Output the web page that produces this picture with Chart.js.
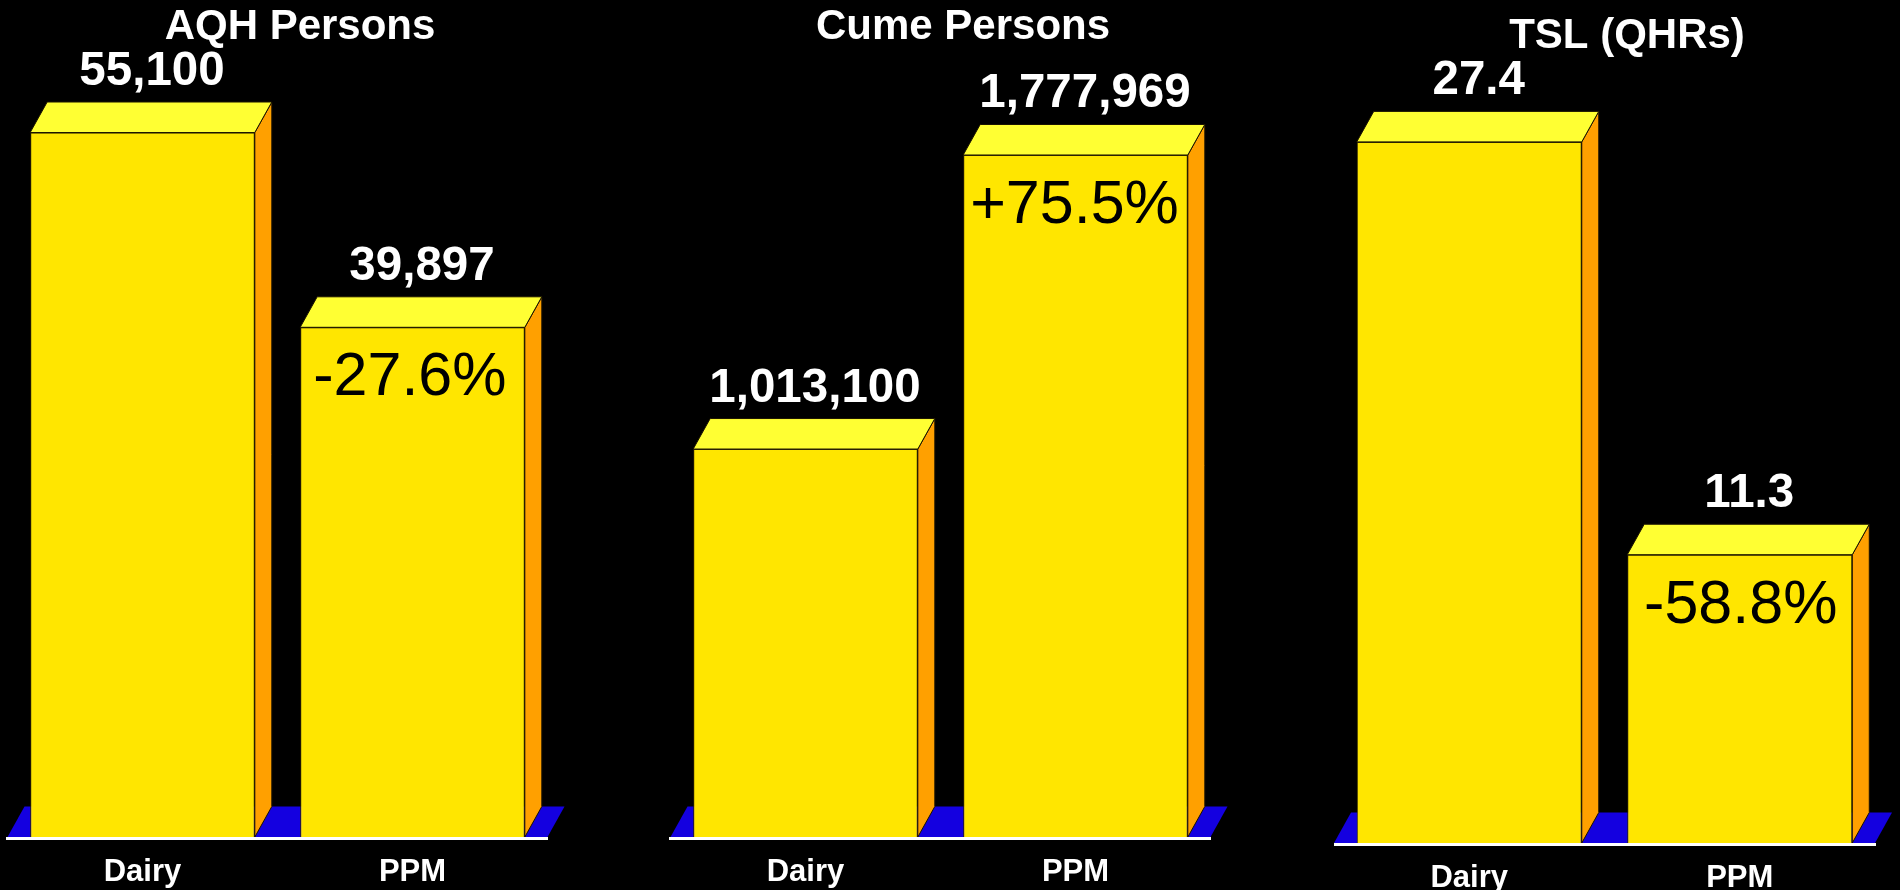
<!DOCTYPE html>
<html>
<head>
<meta charset="utf-8">
<style>
html,body{margin:0;padding:0;background:#000;width:1900px;height:890px;overflow:hidden}
canvas{position:absolute;top:0;display:block}
</style>
<script src="https://cdn.jsdelivr.net/npm/chart.js@4"></script>
</head>
<body>
<canvas id="c1" width="600" height="890" style="left:0"></canvas>
<canvas id="c2" width="626" height="890" style="left:650px"></canvas>
<canvas id="c3" width="586" height="890" style="left:1334px"></canvas>
<script>
const categories = ['Dairy', 'PPM'];

const aqhValues = [55100, 39897];
const cumeValues = [1013100, 1777969];
const tslValues = [27.4, 11.3];

const aqhLabels = ['55,100', '39,897'];
const cumeLabels = ['1,013,100', '1,777,969'];
const tslLabels = ['27.4', '11.3'];

const aqhChange = [null, '-27.6%'];
const cumeChange = [null, '+75.5%'];
const tslChange = [null, '-58.8%'];

const FONT = '"Liberation Sans", Arial, sans-serif';
const DX = 17, DY = 30.5;
const FRONT = '#FFE600', TOP = '#FFFF33', SIDE = '#FFA000', FLOOR = '#1400E0';

const bars3d = {
  id: 'bars3d',
  beforeDraw(chart, args, opts) {
    const w = chart.width;
    chart.titleBlock.left = opts.titleCenter - w / 2;
    chart.titleBlock.right = opts.titleCenter + w / 2;
  },
  beforeDatasetsDraw(chart) {
    const { ctx, chartArea: a } = chart;
    const floorBase = a.bottom - 1.5;
    ctx.save();
    ctx.fillStyle = FLOOR;
    ctx.beginPath();
    ctx.moveTo(a.left, floorBase);
    ctx.lineTo(a.left + DX, floorBase - DY);
    ctx.lineTo(a.right + DX, floorBase - DY);
    ctx.lineTo(a.right, floorBase);
    ctx.closePath();
    ctx.fill();
    ctx.lineWidth = 1;
    ctx.strokeStyle = '#1a1200';
    chart.getDatasetMeta(0).data.forEach(bar => {
      const half = bar.width / 2;
      const l = bar.x - half, r = bar.x + half, t = bar.y;
      ctx.fillStyle = SIDE;
      ctx.beginPath();
      ctx.moveTo(r, t);
      ctx.lineTo(r + DX, t - DY);
      ctx.lineTo(r + DX, floorBase - DY);
      ctx.lineTo(r, floorBase);
      ctx.closePath();
      ctx.fill();
      ctx.stroke();
      ctx.fillStyle = TOP;
      ctx.beginPath();
      ctx.moveTo(l, t);
      ctx.lineTo(l + DX, t - DY);
      ctx.lineTo(r + DX, t - DY);
      ctx.lineTo(r, t);
      ctx.closePath();
      ctx.fill();
      ctx.stroke();
    });
    ctx.restore();
  },
  afterDatasetsDraw(chart, args, opts) {
    const { ctx } = chart;
    ctx.save();
    ctx.textAlign = 'center';
    ctx.textBaseline = 'alphabetic';
    chart.getDatasetMeta(0).data.forEach((bar, i) => {
      ctx.fillStyle = '#fff';
      ctx.font = 'bold 47.5px ' + FONT;
      ctx.fillText(opts.valueLabels[i], bar.x + opts.valueDx, bar.y - 47.5);
      if (opts.changeLabels[i]) {
        ctx.fillStyle = '#000';
        ctx.font = '61px ' + FONT;
        ctx.fillText(opts.changeLabels[i], bar.x + opts.changeDx, bar.y + 68);
      }
    });
    ctx.restore();
  }
};

function makeChart(id, titleText, values, valueLabels, changeLabels, cfg) {
  return new Chart(document.getElementById(id), {
    type: 'bar',
    plugins: [bars3d],
    data: {
      labels: categories,
      datasets: [{
        data: values,
        backgroundColor: FRONT,
        borderColor: '#2a2000',
        borderWidth: { top: 1, left: 1, right: 1, bottom: 0 },
        barPercentage: 1,
        categoryPercentage: 0.832
      }]
    },
    options: {
      responsive: false,
      animation: false,
      layout: { padding: { left: cfg.left, right: cfg.right, top: 0, bottom: 0 } },
      plugins: {
        legend: { display: false },
        tooltip: { enabled: false },
        title: {
          display: true,
          text: titleText,
          color: '#fff',
          font: { family: FONT, size: 42, weight: 'bold', lineHeight: 1 },
          padding: { top: cfg.titleTop, bottom: 0 }
        },
        bars3d: { valueLabels, changeLabels, valueDx: 9.5, changeDx: cfg.changeDx, titleCenter: cfg.titleCenter }
      },
      scales: {
        y: { display: false, min: 0, max: cfg.max },
        x: {
          afterFit(scale) { scale.height = cfg.axisHeight; },
          grid: { display: false, drawTicks: false },
          border: { display: true, color: '#fff', width: 3, z: 1 },
          ticks: {
            color: '#fff',
            padding: cfg.tickPad,
            maxRotation: 0,
            autoSkip: false,
            font: { family: FONT, size: 31, weight: 'bold', lineHeight: 1 }
          }
        }
      }
    }
  });
}

makeChart('c1', 'AQH Persons', aqhValues, aqhLabels, aqhChange,
  { left: 7.5, right: 52.5, titleTop: 6.5, max: 61656, axisHeight: 51.5, changeDx: -2.6, titleCenter: 300, tickPad: 18 });
makeChart('c2', 'Cume Persons', cumeValues, cumeLabels, cumeChange,
  { left: 20.5, right: 65.5, titleTop: 6.5, max: 2054986, axisHeight: 51.5, changeDx: -1, titleCenter: 313, tickPad: 18 });
makeChart('c3', 'TSL (QHRs)', tslValues, tslLabels, tslChange,
  { left: 0, right: 45, titleTop: 15, max: 30.71, axisHeight: 45.5, changeDx: 1, titleCenter: 293, tickPad: 18.5 });
</script>
</body>
</html>
